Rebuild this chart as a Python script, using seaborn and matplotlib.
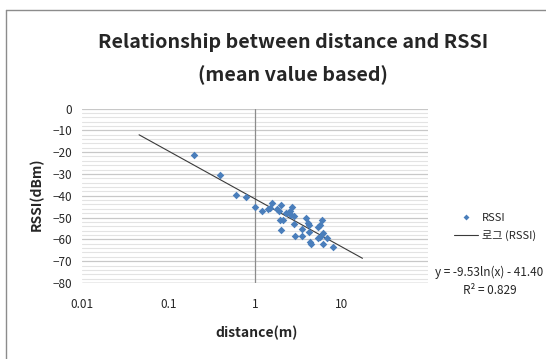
import numpy as np
import pandas as pd
import seaborn as sns
import matplotlib.pyplot as plt
from matplotlib.lines import Line2D

# data
distance = [0.2, 0.4, 0.6, 0.8, 1.0, 1.2, 1.42, 1.49, 1.57, 1.81,
            1.89, 1.94, 1.98, 2.0, 2.09, 2.32, 2.45, 2.54, 2.65, 2.72,
            2.8, 2.84, 2.92, 3.49, 3.49, 3.88, 4.06, 4.2, 4.24, 4.32,
            4.4, 5.3, 5.38, 5.63, 5.68, 5.89, 6.15, 6.15, 6.73, 8.02]
rssi = [-21.4, -30.6, -39.8, -40.6, -45.0, -46.9, -46.1, -45.6, -43.2, -46.2,
        -46.9, -51.1, -44.1, -55.7, -51.1, -48.1, -47.8, -46.9, -49.0, -45.3,
        -53.0, -49.3, -58.3, -55.3, -58.3, -50.1, -52.4, -56.5, -53.4, -61.1,
        -62.2, -59.5, -54.2, -58.8, -53.4, -51.1, -57.2, -62.2, -59.5, -63.4]

# log trendline shown on the chart
coef_a = -9.53
coef_b = -41.40
r2 = 0.829
trend_range = [0.046, 17.5]

x_ticks = [0.01, 0.1, 1, 10]
x_labels = ['0.01', '0.1', '1', '10']
y_ticks = [0, -10, -20, -30, -40, -50, -60, -70, -80]

df = pd.DataFrame({'distance': distance, 'RSSI': rssi})
tx = np.geomspace(trend_range[0], trend_range[1], 50)
trend = pd.DataFrame({'distance': tx, 'RSSI': coef_a * np.log(tx) + coef_b})

sns.set_style('white')
plt.rcParams['font.family'] = ['Noto Sans CJK KR', 'DejaVu Sans']

fig = plt.figure(figsize=(5.46, 3.59), dpi=100)
W, H = 546, 359
ax = fig.add_axes([81.7 / W, 1 - 283 / H, (428 - 81.7) / W, (283 - 108.5) / H])

ax.set_xscale('log')
ax.set_xlim(0.01, 100)
ax.set_ylim(-80, 0)

# gridlines: minor every 2, major every 10
ax.set_yticks(y_ticks)
ax.set_yticks(np.arange(-80, 1, 2), minor=True)
ax.grid(axis='y', which='minor', color='#e3e3e3', lw=0.8)
ax.grid(axis='y', which='major', color='#c8c8c8', lw=0.9)
ax.grid(axis='x', visible=False)
for s in ax.spines.values():
    s.set_visible(False)
ax.axvline(1, color='#8c8c8c', lw=0.9, zorder=1)
ax.axhline(-80, color='#a0a0a0', lw=0.9, zorder=1)

ax.set_xticks(x_ticks)
ax.set_xticklabels(x_labels)
ax.xaxis.set_minor_locator(plt.NullLocator())
ax.tick_params(axis='x', length=0, pad=11, labelsize=8.5)
ax.tick_params(axis='y', which='both', length=0, pad=7, labelsize=8.5)

sns.lineplot(data=trend, x='distance', y='RSSI', ax=ax, color='#3a3a3a',
             lw=0.8, zorder=2)
sns.scatterplot(data=df, x='distance', y='RSSI', ax=ax, marker='D', s=15,
                color='#4a7ebb', linewidth=0, zorder=3, clip_on=False)
ax.set_xlabel('')
ax.set_ylabel('')

fig.text(293 / W, 1 - 43 / H, 'Relationship between distance and RSSI',
         ha='center', va='center', fontsize=14.2, fontweight='bold')
fig.text(293 / W, 1 - 75 / H, '(mean value based)',
         ha='center', va='center', fontsize=14.2, fontweight='bold')
fig.text(37 / W, 1 - 194 / H, 'RSSI(dBm)', rotation=90,
         ha='center', va='center', fontsize=10, fontweight='bold')
fig.text(257 / W, 1 - 333 / H, 'distance(m)',
         ha='center', va='center', fontsize=10, fontweight='bold')

handles = [Line2D([], [], marker='D', ls='none', color='#4a7ebb', ms=3, mew=0),
           Line2D([], [], color='#3a3a3a', lw=0.8)]
fig.legend(handles, ['RSSI', '로그 (RSSI)'], loc='center left',
           bbox_to_anchor=(444 / W, 1 - 227 / H), frameon=False, fontsize=8,
           handlelength=2.2, handletextpad=0.3, labelspacing=0.7)

fig.text(489 / W, 1 - 272 / H, f'y = {coef_a:.2f}ln(x) - {abs(coef_b):.2f}',
         ha='center', va='center', fontsize=8.5)
fig.text(490 / W, 1 - 290 / H, f'R² = {r2:.3f}',
         ha='center', va='center', fontsize=8.5)

# outer chart border
fig.add_artist(Line2D([6 / W, 6 / W], [0, 1 - 10 / H], color='#8c8c8c', lw=1))
fig.add_artist(Line2D([6 / W, 1], [1 - 10 / H, 1 - 10 / H], color='#8c8c8c', lw=1))

fig.savefig('out.png', dpi=100)
